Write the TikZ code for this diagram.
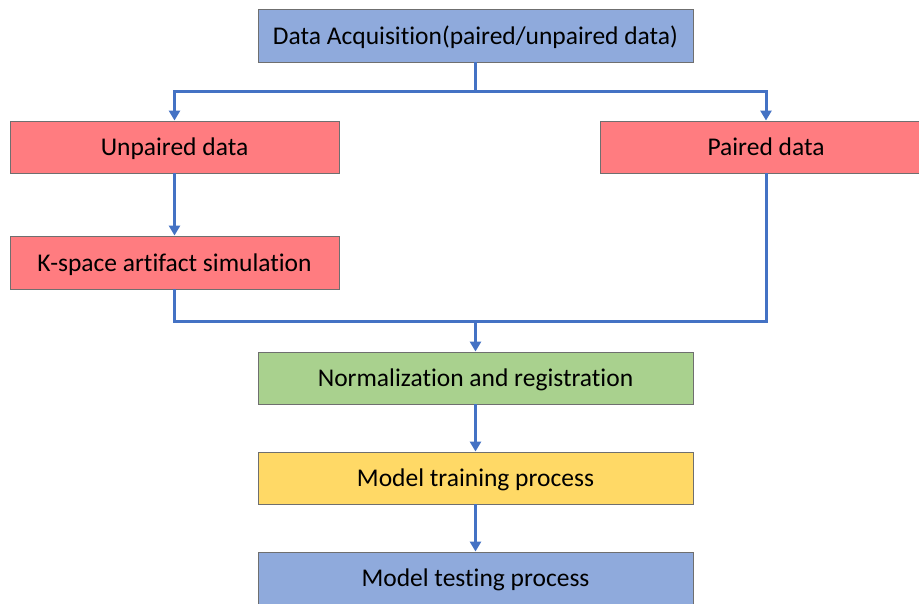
\documentclass[tikz,border=0pt]{standalone}
\usepackage{fontspec}
\setmainfont{Carlito}[Ligatures=NoCommon]
\usetikzlibrary{arrows.meta}
\definecolor{boxblue}{HTML}{8FAADC}
\definecolor{boxred}{HTML}{FF7C80}
\definecolor{boxgreen}{HTML}{A9D18E}
\definecolor{boxyellow}{HTML}{FFD966}
\definecolor{linkblue}{HTML}{4472C4}
\definecolor{edgegray}{HTML}{6F6F6F}
\tikzset{
  x=1pt,y=1pt,
  box/.style={draw=edgegray, line width=0.9pt, inner sep=0pt, minimum height=52pt, font=\fontsize{25.5}{28}\selectfont, text=black, text height=19pt, text depth=2pt},
  wide/.style={box, minimum width=435pt},
  side/.style={box, minimum width=329pt},
  link/.style={draw=linkblue, line width=3pt},
  arr/.style={link, -{Triangle[width=11pt,length=10pt]}}
}
\begin{document}
\begin{tikzpicture}
\useasboundingbox (0,0) rectangle (919,-603);
\node[wide, fill=boxblue, minimum height=53pt] (acq) at (475.5,-35.5) {Data Acquisition(paired/unpaired data)};
\node[side, fill=boxred] (unp) at (174.5,-147) {Unpaired data};
\node[box, fill=boxred, minimum width=332pt] (pai) at (766,-147) {Paired data};
\node[side, fill=boxred, minimum height=53pt] (ksp) at (174.5,-262.5) {K-space artifact simulation};
\node[wide, fill=boxgreen] (nor) at (475.5,-378) {Normalization and registration};
\node[wide, fill=boxyellow] (trn) at (475.5,-478) {Model training process};
\node[wide, fill=boxblue] (tst) at (475.5,-578) {Model testing process};
\coordinate (split) at (475.5,-91);
\coordinate (merge) at (475.5,-321);
\draw[link] (acq.south) -- (split);
\draw[arr] (split) -| (unp.north);
\draw[arr] (split) -| (pai.north);
\draw[arr] (unp.south) -- (ksp.north);
\draw[link] (ksp.south) |- (merge);
\draw[link] (pai.south) |- (merge);
\draw[arr] (merge) -- (nor.north);
\draw[arr] (nor.south) -- (trn.north);
\draw[arr] (trn.south) -- (tst.north);
\end{tikzpicture}
\end{document}
